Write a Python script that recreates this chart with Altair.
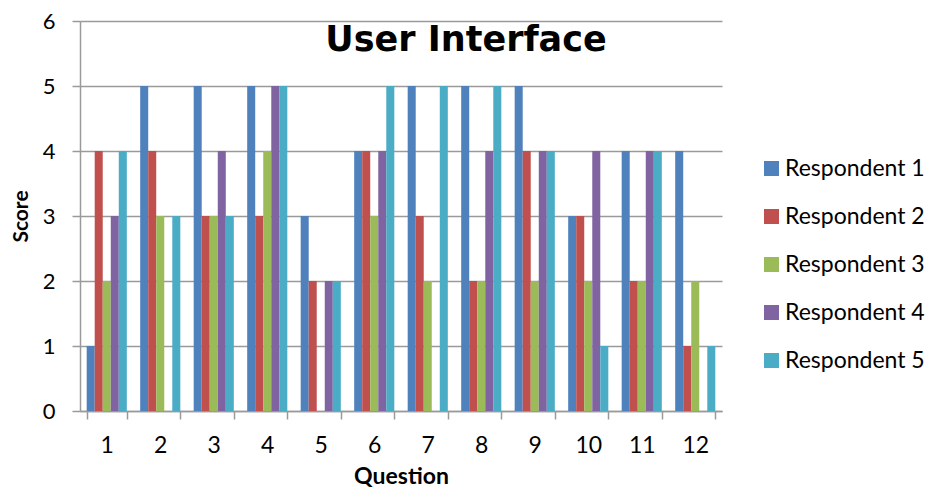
import altair as alt
import pandas as pd

questions = [str(i) for i in range(1, 13)]
respondents = ["Respondent 1", "Respondent 2", "Respondent 3", "Respondent 4", "Respondent 5"]
r1 = [1, 5, 5, 5, 3, 4, 5, 5, 5, 3, 4, 4]
r2 = [4, 4, 3, 3, 2, 4, 3, 2, 4, 3, 2, 1]
r3 = [2, 3, 3, 4, 0, 3, 2, 2, 2, 2, 2, 2]
r4 = [3, 0, 4, 5, 2, 4, 0, 4, 4, 4, 4, 0]
r5 = [4, 3, 3, 5, 2, 5, 5, 5, 4, 1, 4, 1]
colors = ["#4F81BD", "#C0504D", "#9BBB59", "#8064A2", "#4BACC6"]
y_ticks = [0, 1, 2, 3, 4, 5, 6]
title_text = "User Interface"

series = [r1, r2, r3, r4, r5]
rows = []
for name, vals in zip(respondents, series):
    for q, v in zip(questions, vals):
        rows.append({"Question": q, "Respondent": name, "Score": v})
df = pd.DataFrame(rows)

FONT = "Lato"
GRAY = "#9A9A9A"

bars = alt.Chart(df).mark_bar().encode(
    x=alt.X(
        "Question:N",
        sort=questions,
        scale=alt.Scale(paddingInner=0.25, paddingOuter=0.125),
        axis=alt.Axis(
            title="Question",
            labelAngle=0,
            tickBand="extent",
            tickSize=8,
            tickColor=GRAY,
            tickWidth=1.5,
            domainColor=GRAY,
            domainWidth=1.5,
            labelFont=FONT,
            labelFontSize=23,
            labelColor="black",
            labelPadding=15,
            titleFont=FONT,
            titleFontSize=23,
            titleFontWeight="bold",
            titleColor="black",
            titlePadding=8,
            grid=False,
        ),
    ),
    xOffset=alt.XOffset("Respondent:N", sort=respondents,
                        scale=alt.Scale(paddingInner=0, paddingOuter=0)),
    y=alt.Y(
        "Score:Q",
        scale=alt.Scale(domain=[0, 6], nice=False),
        axis=alt.Axis(
            title="Score",
            values=y_ticks,
            format="d",
            tickSize=8,
            tickColor=GRAY,
            tickWidth=1.5,
            domainColor=GRAY,
            domainWidth=1.5,
            gridColor=GRAY,
            gridWidth=1.5,
            labelFont=FONT,
            labelFontSize=22,
            labelColor="black",
            labelPadding=17,
            titleFont=FONT,
            titleFontSize=21,
            titleFontWeight="bold",
            titleColor="black",
            titlePadding=11,
        ),
    ),
    color=alt.Color(
        "Respondent:N",
        scale=alt.Scale(domain=respondents, range=colors),
        legend=alt.Legend(
            title=None,
            orient="none",
            legendX=680,
            legendY=136,
            padding=0,
            symbolType="square",
            symbolSize=225,
            symbolStrokeWidth=0,
            labelFont=FONT,
            labelFontSize=23,
            labelColor="black",
            labelOffset=2,
            labelLimit=300,
            rowPadding=24,
        ),
    ),
)

title = alt.Chart(pd.DataFrame({"t": [title_text]})).mark_text(
    font="DejaVu Sans", fontSize=35, fontWeight="bold", color="black",
    align="center", baseline="alphabetic",
).encode(text="t:N", x=alt.value(386), y=alt.value(30))

chart = alt.layer(bars, title).properties(
    width=642,
    height=390,
    autosize=alt.AutoSizeParams(type="none"),
    padding={"left": 72, "top": 13, "right": 208, "bottom": 79},
).configure_view(stroke=None)

chart.save("out.html", embed_options={"renderer": "svg", "actions": False})
